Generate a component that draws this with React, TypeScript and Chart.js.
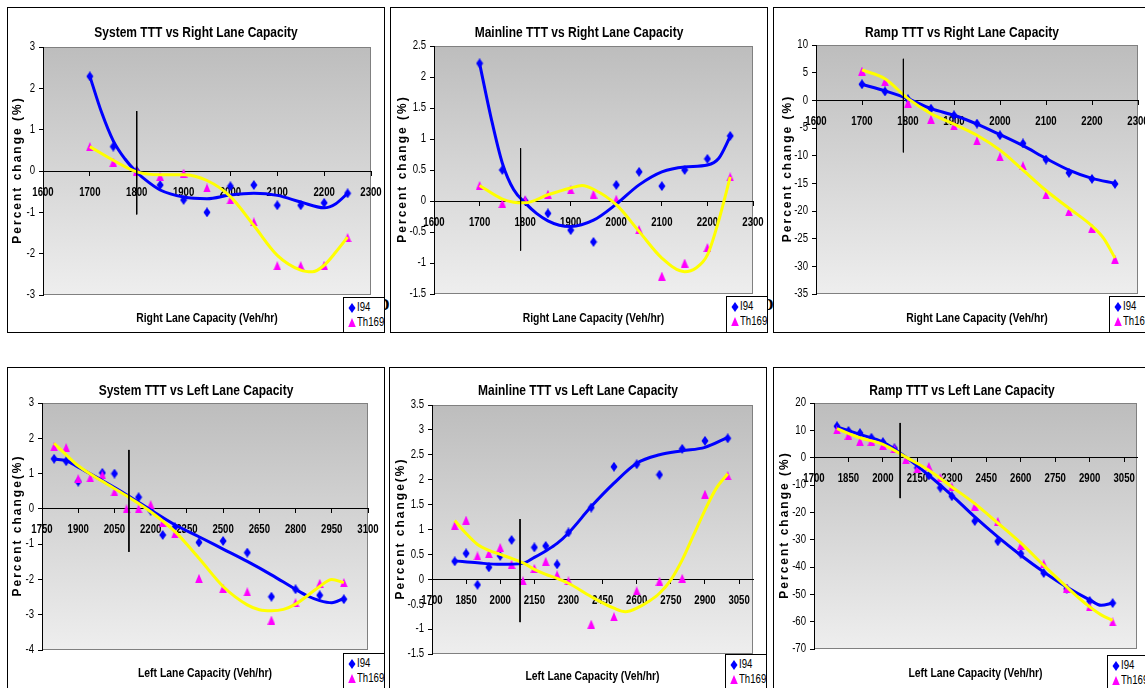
import React, { useEffect, useRef } from "react";
import { Chart, registerables } from "chart.js";

Chart.register(...registerables);

// ---------------- data ----------------
const rightLaneCapacity = [1700, 1750, 1800, 1850, 1900, 1950, 2000, 2050, 2100, 2150, 2200, 2250];
const leftLaneCapacity = [1800, 1850, 1900, 1950, 2000, 2050, 2100, 2150, 2200, 2250, 2300, 2400, 2500, 2600, 2700, 2800, 2900, 3000];

const rightXTicks = [1600, 1700, 1800, 1900, 2000, 2100, 2200, 2300];
const sysLeftXTicks = [1750, 1900, 2050, 2200, 2350, 2500, 2650, 2800, 2950, 3100];
const leftXTicks = [1700, 1850, 2000, 2150, 2300, 2450, 2600, 2750, 2900, 3050];

const sysRightYTicks = [-3, -2, -1, 0, 1, 2, 3];
const mainRightYTicks = [-1.5, -1, -0.5, 0, 0.5, 1, 1.5, 2, 2.5];
const rampRightYTicks = [-35, -30, -25, -20, -15, -10, -5, 0, 5, 10];
const sysLeftYTicks = [-4, -3, -2, -1, 0, 1, 2, 3];
const mainLeftYTicks = [-1.5, -1, -0.5, 0, 0.5, 1, 1.5, 2, 2.5, 3, 3.5];
const rampLeftYTicks = [-70, -60, -50, -40, -30, -20, -10, 0, 10, 20];

// System TTT vs Right Lane Capacity
const sysRightI94 = [2.29, 0.59, 0.0, -0.34, -0.7, -1.0, -0.37, -0.34, -0.83, -0.83, -0.77, -0.54];
const sysRightTh169 = [0.59, 0.21, 0.0, -0.13, -0.05, -0.41, -0.7, -1.23, -2.29, -2.29, -2.28, -1.61];
const sysRightI94TrendX = [1700, 1725, 1750, 1775, 1800, 1825, 1850, 1900, 1950, 2000, 2050, 2100, 2150, 2200, 2225, 2250];
const sysRightI94Trend = [2.29, 1.42, 0.73, 0.29, -0.03, -0.27, -0.46, -0.63, -0.67, -0.58, -0.54, -0.59, -0.75, -0.89, -0.79, -0.54];
const sysRightTh169TrendX = [1700, 1750, 1800, 1850, 1900, 1950, 2000, 2050, 2100, 2150, 2175, 2200, 2225, 2250];
const sysRightTh169Trend = [0.59, 0.26, -0.02, -0.09, -0.09, -0.23, -0.62, -1.32, -2.04, -2.4, -2.44, -2.28, -1.96, -1.6];
const sysRightRefX = [1800, 1800];
const sysRightRefY = [1.45, -1.05];

// Mainline TTT vs Right Lane Capacity
const mainRightI94 = [2.22, 0.5, 0.0, -0.2, -0.47, -0.66, 0.26, 0.47, 0.24, 0.5, 0.68, 1.05];
const mainRightTh169 = [0.25, -0.04, 0.02, 0.11, 0.18, 0.11, 0.03, -0.46, -1.21, -1.0, -0.75, 0.39];
const mainRightI94TrendX = [1700, 1725, 1750, 1775, 1800, 1825, 1850, 1875, 1900, 1950, 2000, 2050, 2100, 2150, 2200, 2225, 2250];
const mainRightI94Trend = [2.22, 1.35, 0.61, 0.18, -0.03, -0.2, -0.32, -0.39, -0.41, -0.31, -0.05, 0.26, 0.47, 0.55, 0.58, 0.69, 1.04];
const mainRightTh169TrendX = [1700, 1750, 1775, 1800, 1850, 1900, 1925, 1950, 2000, 2050, 2100, 2150, 2175, 2200, 2225, 2250];
const mainRightTh169Trend = [0.25, 0.03, -0.02, -0.03, 0.1, 0.21, 0.25, 0.19, -0.06, -0.49, -0.92, -1.14, -1.08, -0.87, -0.31, 0.39];
const mainRightRefX = [1790, 1790];
const mainRightRefY = [0.85, -0.8];

// Ramp TTT vs Right Lane Capacity
const rampRightI94 = [2.9, 1.6, 0.2, -1.5, -2.7, -4.2, -6.3, -7.8, -10.7, -13.1, -14.2, -15.1];
const rampRightTh169 = [5.3, 3.4, -0.5, -3.4, -4.6, -7.3, -10.2, -11.8, -17.1, -20.1, -23.1, -28.7];
const rampRightI94TrendX = [1700, 1750, 1800, 1850, 1900, 1950, 2000, 2050, 2100, 2150, 2200, 2250];
const rampRightI94Trend = [2.9, 1.7, 0.3, -1.5, -2.7, -4.3, -6.2, -8.2, -10.5, -12.6, -14.1, -15.0];
const rampRightTh169TrendX = [1700, 1750, 1800, 1850, 1900, 1950, 2000, 2050, 2100, 2150, 2200, 2225, 2250];
const rampRightTh169Trend = [5.5, 3.9, 0.3, -2.4, -4.3, -6.3, -9.0, -12.6, -16.3, -19.5, -22.7, -24.9, -28.5];
const rampRightRefX = [1790, 1790];
const rampRightRefY = [7.5, -9.4];

// System TTT vs Left Lane Capacity
const sysLeftI94 = [1.42, 1.35, 0.77, null, 1.02, 1.0, null, 0.33, -0.05, -0.74, -0.52, -0.95, -0.91, -1.24, -2.49, -2.28, -2.45, -2.56];
const sysLeftTh169 = [1.76, 1.74, 0.86, 0.88, 0.96, 0.48, 0.0, 0.0, 0.12, -0.38, -0.71, -1.97, -2.25, -2.35, -3.15, -2.66, -2.11, -2.09];
const sysLeftI94TrendX = [1800, 1850, 1900, 2000, 2100, 2200, 2300, 2400, 2500, 2600, 2700, 2800, 2850, 2900, 2950, 3000];
const sysLeftI94Trend = [1.41, 1.37, 1.18, 0.8, 0.4, -0.03, -0.45, -0.79, -1.14, -1.49, -1.87, -2.28, -2.47, -2.6, -2.66, -2.54];
const sysLeftTh169TrendX = [1800, 1850, 1900, 2000, 2100, 2200, 2300, 2400, 2500, 2600, 2650, 2700, 2750, 2800, 2900, 2950, 3000];
const sysLeftTh169Trend = [1.86, 1.53, 1.22, 0.78, 0.37, -0.08, -0.64, -1.4, -2.2, -2.72, -2.86, -2.89, -2.85, -2.7, -2.2, -2.0, -2.09];
const sysLeftRefX = [2110, 2110];
const sysLeftRefY = [1.67, -1.22];

// Mainline TTT vs Left Lane Capacity
const mainLeftI94 = [0.36, 0.52, -0.11, 0.24, 0.47, 0.79, null, 0.64, 0.67, 0.3, 0.94, 1.44, 2.26, 2.31, 2.1, 2.62, 2.78, 2.83];
const mainLeftTh169 = [1.08, 1.19, 0.47, 0.52, 0.64, 0.3, -0.03, 0.22, 0.36, 0.09, -0.03, -0.9, -0.75, -0.23, -0.04, 0.02, 1.71, 2.08];
const mainLeftI94TrendX = [1800, 1900, 2000, 2100, 2150, 2200, 2250, 2300, 2400, 2500, 2600, 2700, 2800, 2900, 3000];
const mainLeftI94Trend = [0.37, 0.33, 0.3, 0.32, 0.44, 0.57, 0.72, 0.93, 1.46, 1.93, 2.33, 2.5, 2.58, 2.65, 2.85];
const mainLeftTh169TrendX = [1800, 1850, 1900, 1950, 2000, 2050, 2100, 2150, 2200, 2250, 2300, 2400, 2500, 2550, 2600, 2650, 2700, 2750, 2800, 2850, 2900, 2950, 3000];
const mainLeftTh169Trend = [1.18, 0.92, 0.7, 0.58, 0.5, 0.42, 0.33, 0.2, 0.1, 0.02, -0.08, -0.35, -0.58, -0.65, -0.58, -0.45, -0.28, -0.01, 0.39, 0.89, 1.39, 1.83, 2.12];
const mainLeftRefX = [2087, 2087];
const mainLeftRefY = [1.21, -0.86];

// Ramp TTT vs Left Lane Capacity
const rampLeftI94 = [11.5, 9.8, 9.0, 7.3, 5.7, 3.4, null, -3.7, -6.5, -11.0, -14.1, -23.2, -30.6, -35.1, -42.2, -47.9, -52.4, -53.2];
const rampLeftTh169 = [10.2, 8.2, 6.0, 6.0, 4.5, 3.3, -0.7, -4.0, -3.2, -7.3, -10.7, -17.7, -23.3, -32.1, -38.8, -47.7, -54.6, -60.1];
const rampLeftTrendX = [1800, 1900, 2000, 2100, 2200, 2300, 2400, 2500, 2600, 2700, 2800, 2900, 2950, 3000];
const rampLeftI94Trend = [11.2, 8.5, 5.7, 0.2, -6.5, -13.8, -21.7, -29.0, -35.7, -41.8, -47.3, -52.0, -54.0, -53.2];
const rampLeftTh169Trend = [10.6, 7.3, 4.9, 0.2, -4.6, -10.7, -16.8, -23.9, -31.2, -39.4, -47.3, -54.6, -57.5, -59.5];
const rampLeftRefX = [2075, 2075];
const rampLeftRefY = [12.7, -14.8];

const seriesNames = ["I94", "Th169"];

// ---------------- styling ----------------
const FONT = '"Liberation Sans", Arial, sans-serif';
const TEXT_SCALE = 0.8; // narrow (condensed) text, as in the source figure
const BLUE = "#0000FF";
const MAGENTA = "#FF00FF";
const YELLOW = "#FFFF00";

type Box = { l: number; t: number; w: number; h: number };
type Panel = {
  title: string;
  xTitle: string;
  yTitle: string;
  xs: number[];
  i94: (number | null)[];
  th169: (number | null)[];
  i94TrendX: number[];
  i94Trend: number[];
  th169TrendX: number[];
  th169Trend: number[];
  refX: number[];
  refY: number[];
  xMin: number;
  xMax: number;
  xTicks: number[];
  yTicks: number[];
  box: Box;
  area: { l: number; t: number; r: number; b: number };
  titleCy: number;
  xTitleCy: number;
  yTitleCx: number;
  legend: Box;
};

const panels: Panel[] = [
  {
    title: "System TTT vs Right Lane Capacity",
    xTitle: "Right Lane Capacity (Veh/hr)",
    yTitle: "Percent change (%)",
    xs: rightLaneCapacity, i94: sysRightI94, th169: sysRightTh169,
    i94TrendX: sysRightI94TrendX, i94Trend: sysRightI94Trend,
    th169TrendX: sysRightTh169TrendX, th169Trend: sysRightTh169Trend,
    refX: sysRightRefX, refY: sysRightRefY,
    xMin: 1600, xMax: 2300, xTicks: rightXTicks, yTicks: sysRightYTicks,
    box: { l: 7, t: 7, w: 378, h: 326 },
    area: { l: 43, t: 47, r: 371, b: 295 },
    titleCy: 33, xTitleCy: 318, yTitleCx: 18,
    legend: { l: 343, t: 297, w: 42, h: 36 },
  },
  {
    title: "Mainline TTT vs Right Lane Capacity",
    xTitle: "Right Lane Capacity (Veh/hr)",
    yTitle: "Percent change (%)",
    xs: rightLaneCapacity, i94: mainRightI94, th169: mainRightTh169,
    i94TrendX: mainRightI94TrendX, i94Trend: mainRightI94Trend,
    th169TrendX: mainRightTh169TrendX, th169Trend: mainRightTh169Trend,
    refX: mainRightRefX, refY: mainRightRefY,
    xMin: 1600, xMax: 2300, xTicks: rightXTicks, yTicks: mainRightYTicks,
    box: { l: 390, t: 7, w: 378, h: 326 },
    area: { l: 434, t: 46, r: 753, b: 294 },
    titleCy: 33, xTitleCy: 318, yTitleCx: 403,
    legend: { l: 726, t: 296, w: 42, h: 37 },
  },
  {
    title: "Ramp TTT vs Right Lane Capacity",
    xTitle: "Right Lane Capacity (Veh/hr)",
    yTitle: "Percent change (%)",
    xs: rightLaneCapacity, i94: rampRightI94, th169: rampRightTh169,
    i94TrendX: rampRightI94TrendX, i94Trend: rampRightI94Trend,
    th169TrendX: rampRightTh169TrendX, th169Trend: rampRightTh169Trend,
    refX: rampRightRefX, refY: rampRightRefY,
    xMin: 1600, xMax: 2300, xTicks: rightXTicks, yTicks: rampRightYTicks,
    box: { l: 773, t: 7, w: 378, h: 326 },
    area: { l: 816, t: 45, r: 1138, b: 294 },
    titleCy: 33, xTitleCy: 318, yTitleCx: 788,
    legend: { l: 1109, t: 296, w: 42, h: 37 },
  },
  {
    title: "System TTT vs Left Lane Capacity",
    xTitle: "Left Lane Capacity (Veh/hr)",
    yTitle: "Percent change(%)",
    xs: leftLaneCapacity, i94: sysLeftI94, th169: sysLeftTh169,
    i94TrendX: sysLeftI94TrendX, i94Trend: sysLeftI94Trend,
    th169TrendX: sysLeftTh169TrendX, th169Trend: sysLeftTh169Trend,
    refX: sysLeftRefX, refY: sysLeftRefY,
    xMin: 1750, xMax: 3100, xTicks: sysLeftXTicks, yTicks: sysLeftYTicks,
    box: { l: 7, t: 367, w: 378, h: 326 },
    area: { l: 42, t: 403, r: 368, b: 650 },
    titleCy: 391, xTitleCy: 673, yTitleCx: 18,
    legend: { l: 343, t: 653, w: 42, h: 40 },
  },
  {
    title: "Mainline TTT vs Left Lane Capacity",
    xTitle: "Left Lane Capacity (Veh/hr)",
    yTitle: "Percent change(%)",
    xs: leftLaneCapacity, i94: mainLeftI94, th169: mainLeftTh169,
    i94TrendX: mainLeftI94TrendX, i94Trend: mainLeftI94Trend,
    th169TrendX: mainLeftTh169TrendX, th169Trend: mainLeftTh169Trend,
    refX: mainLeftRefX, refY: mainLeftRefY,
    xMin: 1700, xMax: 3111, xTicks: leftXTicks, yTicks: mainLeftYTicks,
    box: { l: 389, t: 367, w: 378, h: 326 },
    area: { l: 432, t: 405, r: 753, b: 654 },
    titleCy: 391, xTitleCy: 676, yTitleCx: 401,
    legend: { l: 725, t: 654, w: 42, h: 40 },
  },
  {
    title: "Ramp TTT vs Left Lane Capacity",
    xTitle: "Left Lane Capacity (Veh/hr)",
    yTitle: "Percent change (%)",
    xs: leftLaneCapacity, i94: rampLeftI94, th169: rampLeftTh169,
    i94TrendX: rampLeftTrendX, i94Trend: rampLeftI94Trend,
    th169TrendX: rampLeftTrendX, th169Trend: rampLeftTh169Trend,
    refX: rampLeftRefX, refY: rampLeftRefY,
    xMin: 1700, xMax: 3106, xTicks: leftXTicks, yTicks: rampLeftYTicks,
    box: { l: 773, t: 367, w: 378, h: 326 },
    area: { l: 814, t: 403, r: 1137, b: 649 },
    titleCy: 391, xTitleCy: 673, yTitleCx: 785,
    legend: { l: 1107, t: 655, w: 42, h: 40 },
  },
];

// ---------------- helpers ----------------
function toPoints(xs: number[], ys: (number | null)[]) {
  const out: { x: number; y: number }[] = [];
  xs.forEach((x, i) => {
    const y = ys[i];
    if (y !== null && y !== undefined) out.push({ x, y });
  });
  return out;
}

function makeDiamond(color: string) {
  const c = document.createElement("canvas");
  c.width = 8;
  c.height = 10;
  const g = c.getContext("2d")!;
  g.fillStyle = color;
  g.beginPath();
  g.moveTo(4, 0);
  g.lineTo(7.5, 5);
  g.lineTo(4, 10);
  g.lineTo(0.5, 5);
  g.closePath();
  g.fill();
  return c;
}

function makeTriangle(color: string) {
  const c = document.createElement("canvas");
  c.width = 8;
  c.height = 9;
  const g = c.getContext("2d")!;
  g.fillStyle = color;
  g.beginPath();
  g.moveTo(4, 0);
  g.lineTo(7.8, 9);
  g.lineTo(0.2, 9);
  g.closePath();
  g.fill();
  return c;
}

const plotBgPlugin = {
  id: "plotBg",
  beforeDraw(chart: any) {
    const { ctx, chartArea: a } = chart;
    const g = ctx.createLinearGradient(0, a.top, 0, a.bottom);
    g.addColorStop(0, "#BDBDBD");
    g.addColorStop(1, "#EEEEEE");
    ctx.save();
    ctx.fillStyle = g;
    ctx.fillRect(a.left, a.top, a.right - a.left, a.bottom - a.top);
    ctx.strokeStyle = "#808080";
    ctx.lineWidth = 1;
    ctx.strokeRect(Math.round(a.left) + 0.5, Math.round(a.top) + 0.5, Math.round(a.right - a.left) - 1, Math.round(a.bottom - a.top) - 1);
    ctx.restore();
  },
};

const yTitlePlugin = {
  id: "yTitle",
  afterDraw(chart: any, _args: any, opts: any) {
    const { ctx, chartArea: a } = chart;
    ctx.save();
    ctx.__noScale = true;
    ctx.translate(opts.x, (a.top + a.bottom) / 2);
    ctx.rotate(-Math.PI / 2);
    ctx.font = `bold 12px ${FONT}`;
    ctx.letterSpacing = opts.spacing + "px";
    ctx.fillStyle = "#000";
    ctx.textAlign = "center";
    ctx.textBaseline = "middle";
    ctx.fillText(opts.text, opts.spacing / 2, 0);
    ctx.__noScale = false;
    ctx.restore();
  },
};

// Draw all chart text slightly condensed (the source uses a narrow face)
function condenseText(ctx: any) {
  if (ctx.__condensed) return;
  const orig = ctx.fillText.bind(ctx);
  ctx.fillText = (text: string, x: number, y: number) => {
    if (ctx.__noScale) {
      orig(text, x, y);
      return;
    }
    ctx.save();
    ctx.translate(x, y);
    ctx.scale(TEXT_SCALE, 1);
    orig(text, 0, 0);
    ctx.restore();
  };
  ctx.__condensed = true;
}

function buildConfig(p: Panel): any {
  const ox = p.box.l + 1;
  const oy = p.box.t + 1;
  const cw = p.box.w - 2;
  const ch = p.box.h - 2;
  const caL = p.area.l - ox;
  const caT = p.area.t - oy;
  const caR = p.area.r - ox;
  const caB = p.area.b - oy;
  const titleSize = 15;
  const titleLH = titleSize * 1.2;
  const tPadTop = p.titleCy - oy - titleLH / 2;
  const tPadBottom = caT - tPadTop - titleLH;
  const subSize = 13;
  const subLH = subSize * 1.2;
  const sPadTop = p.xTitleCy - oy - caB - subLH / 2;
  const sPadBottom = ch - caB - sPadTop - subLH;

  const diamond = makeDiamond(BLUE);
  const triangle = makeTriangle(MAGENTA);

  return {
    type: "scatter",
    data: {
      datasets: [
        {
          label: "ref",
          data: toPoints(p.refX, p.refY),
          showLine: true,
          borderColor: "#000",
          borderWidth: 1,
          pointRadius: 0,
        },
        {
          label: seriesNames[1] + " trend",
          data: toPoints(p.th169TrendX, p.th169Trend),
          showLine: true,
          borderColor: YELLOW,
          borderWidth: 3,
          pointRadius: 0,
          cubicInterpolationMode: "monotone",
        },
        {
          label: seriesNames[0] + " trend",
          data: toPoints(p.i94TrendX, p.i94Trend),
          showLine: true,
          borderColor: BLUE,
          borderWidth: 3,
          pointRadius: 0,
          cubicInterpolationMode: "monotone",
        },
        {
          label: seriesNames[1],
          data: toPoints(p.xs, p.th169),
          pointStyle: triangle,
          pointRadius: 4,
          backgroundColor: MAGENTA,
          borderColor: MAGENTA,
        },
        {
          label: seriesNames[0],
          data: toPoints(p.xs, p.i94),
          pointStyle: diamond,
          pointRadius: 4,
          backgroundColor: BLUE,
          borderColor: BLUE,
        },
      ],
    },
    options: {
      responsive: false,
      animation: false,
      events: [],
      layout: { padding: 0 },
      scales: {
        x: {
          type: "linear",
          position: { y: 0 },
          min: p.xMin,
          max: p.xMax,
          bounds: "data",
          afterBuildTicks: (axis: any) => {
            axis.ticks = p.xTicks.map((v) => ({ value: v }));
          },
          afterFit: (s: any) => {
            s.paddingLeft = 0;
            s.paddingRight = 0;
          },
          grid: { display: true, drawOnChartArea: false, drawTicks: true, tickLength: 4, color: "#000" },
          border: { display: true, color: "#000", width: 1 },
          ticks: {
            autoSkip: false,
            maxRotation: 0,
            padding: 10,
            color: "#000",
            font: { family: FONT, size: 12, weight: "bold" },
            callback: (v: any) => String(v),
          },
        },
        y: {
          type: "linear",
          position: "left",
          min: p.yTicks[0],
          max: p.yTicks[p.yTicks.length - 1],
          bounds: "data",
          afterBuildTicks: (axis: any) => {
            axis.ticks = p.yTicks.map((v) => ({ value: v }));
          },
          afterFit: (s: any) => {
            s.width = caL;
            s.paddingTop = 0;
            s.paddingBottom = 0;
          },
          grid: { display: true, drawOnChartArea: false, drawTicks: true, tickLength: 4, color: "#000" },
          border: { display: true, color: "#000", width: 1 },
          ticks: {
            autoSkip: false,
            padding: 4,
            color: "#000",
            font: { family: FONT, size: 12 },
            callback: (v: any) => String(v),
          },
        },
        // empty spacer on the right so the plot area ends where the source's does
        yRight: {
          type: "linear",
          position: "right",
          display: true,
          grid: { display: false, drawTicks: false },
          border: { display: false },
          ticks: { display: false },
          afterFit: (s: any) => {
            s.width = cw - caR;
            s.paddingTop = 0;
            s.paddingBottom = 0;
          },
        },
      },
      plugins: {
        legend: { display: false },
        tooltip: { enabled: false },
        title: {
          display: true,
          text: p.title,
          color: "#000",
          font: { family: FONT, size: titleSize, weight: "bold" },
          padding: { top: tPadTop, bottom: tPadBottom },
        },
        subtitle: {
          display: true,
          position: "bottom",
          fullSize: false,
          text: p.xTitle,
          color: "#000",
          font: { family: FONT, size: subSize, weight: "bold" },
          padding: { top: sPadTop, bottom: sPadBottom },
        },
        yTitle: { text: p.yTitle, x: p.yTitleCx - ox, spacing: 2 },
      },
    },
    plugins: [plotBgPlugin, yTitlePlugin],
  };
}

function PanelChart({ p }: { p: Panel }) {
  const ref = useRef<HTMLCanvasElement>(null);
  useEffect(() => {
    const canvas = ref.current!;
    condenseText(canvas.getContext("2d"));
    const chart = new Chart(canvas, buildConfig(p));
    return () => chart.destroy();
  }, [p]);
  const w = p.box.w - 2;
  const h = p.box.h - 2;
  return (
    <div
      style={{
        position: "absolute",
        left: p.box.l,
        top: p.box.t,
        width: p.box.w,
        height: p.box.h,
        border: "1px solid #000",
        boxSizing: "border-box",
        background: "#fff",
      }}
    >
      <canvas ref={ref} width={w} height={h} style={{ display: "block", width: w, height: h }} />
    </div>
  );
}

function Legend({ b }: { b: Box }) {
  const text: React.CSSProperties = {
    position: "absolute",
    left: 13,
    font: `12px ${FONT}`,
    lineHeight: "14px",
    color: "#000",
    whiteSpace: "nowrap",
    transform: `scaleX(${TEXT_SCALE})`,
    transformOrigin: "left center",
  };
  return (
    <div
      style={{
        position: "absolute",
        left: b.l,
        top: b.t,
        width: b.w,
        height: b.h,
        border: "1px solid #000",
        boxSizing: "border-box",
        background: "#fff",
        overflow: "hidden",
      }}
    >
      <svg width={8} height={10} style={{ position: "absolute", left: 4, top: 5 }}>
        <polygon points="4,0 7.5,5 4,10 0.5,5" fill={BLUE} />
      </svg>
      <div style={{ ...text, top: 2 }}>{seriesNames[0]}</div>
      <svg width={8} height={9} style={{ position: "absolute", left: 4, top: 20 }}>
        <polygon points="4,0 7.8,9 0.2,9" fill={MAGENTA} />
      </svg>
      <div style={{ ...text, top: 17 }}>{seriesNames[1]}</div>
    </div>
  );
}

export default function App() {
  const stray: React.CSSProperties = {
    position: "absolute",
    top: 296,
    font: 'bold 16px "Liberation Serif", serif',
    color: "#000",
  };
  return (
    <div
      style={{
        position: "absolute",
        left: 0,
        top: 0,
        width: 1145,
        height: 688,
        overflow: "hidden",
        background: "#fff",
      }}
    >
      <div style={{ ...stray, left: 378 }}>D</div>
      <div style={{ ...stray, left: 762 }}>D</div>
      {panels.map((p, i) => (
        <PanelChart key={i} p={p} />
      ))}
      {panels.map((p, i) => (
        <Legend key={"l" + i} b={p.legend} />
      ))}
    </div>
  );
}
